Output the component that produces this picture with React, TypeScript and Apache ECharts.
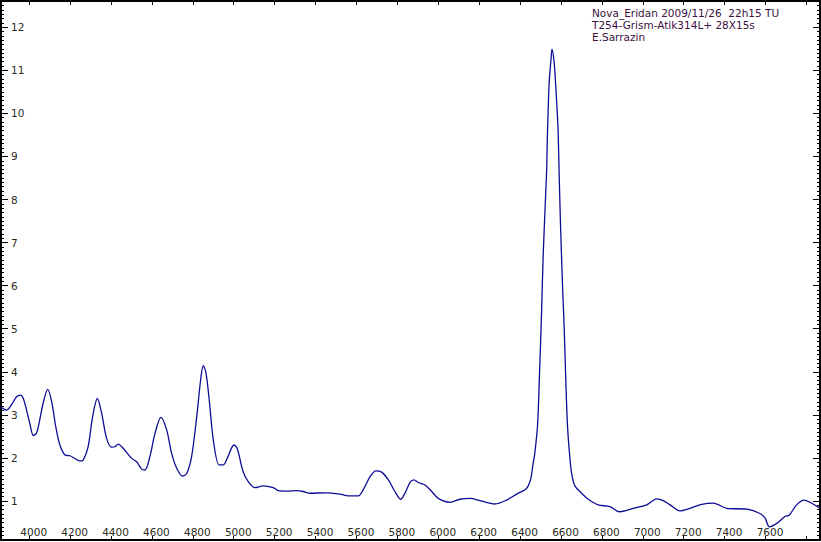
import React, { useEffect, useRef } from "react";
import * as echarts from "echarts";

// Spectrum: wavelength (Å) and relative flux
const wavelengths = [
  3862, 3889, 3915, 3938, 3958, 3971, 3987, 4003, 4020, 4036, 4050, 4068, 4090, 4110, 4130, 4150,
  4175, 4199, 4225, 4248, 4264, 4288, 4310, 4333, 4354, 4378, 4403, 4419, 4435, 4460, 4501, 4525,
  4550, 4566, 4590, 4615, 4644, 4672, 4696, 4721, 4750, 4770, 4794, 4819, 4840, 4851, 4864, 4880,
  4900, 4928, 4949, 4968, 5001, 5017, 5046, 5071, 5104, 5144, 5193, 5218, 5259, 5307, 5340, 5373,
  5454, 5519, 5560, 5609, 5633, 5666, 5695, 5723, 5756, 5788, 5816, 5837, 5862, 5881, 5902, 5935,
  5968, 6000, 6057, 6106, 6155, 6204, 6277, 6334, 6383, 6424, 6440, 6453, 6463, 6472, 6486, 6495,
  6503, 6513, 6525, 6530, 6533, 6538, 6543, 6551, 6556, 6567, 6575, 6581, 6586, 6591, 6598, 6608,
  6616, 6624, 6632, 6643, 6652, 6668, 6701, 6733, 6782, 6839, 6885, 6954, 7019, 7068, 7100, 7133,
  7182, 7231, 7288, 7345, 7410, 7508, 7573, 7598, 7619, 7655, 7695, 7716, 7752, 7788, 7817, 7866,
];
const flux = [
  3.18, 3.11, 3.25, 3.42, 3.46, 3.38, 3.11, 2.8, 2.52, 2.58, 2.85, 3.27, 3.59, 3.3, 2.72, 2.3,
  2.07, 2.05, 1.98, 1.93, 1.95, 2.26, 2.96, 3.38, 3.04, 2.46, 2.25, 2.26, 2.32, 2.22, 1.99, 1.91,
  1.74, 1.72, 2.03, 2.57, 2.94, 2.65, 2.11, 1.76, 1.58, 1.64, 2.03, 2.96, 3.89, 4.14, 3.98, 3.35,
  2.42, 1.84, 1.84, 1.99, 2.3, 2.22, 1.68, 1.45, 1.31, 1.35, 1.31, 1.24, 1.23, 1.24, 1.22, 1.18,
  1.19, 1.16, 1.12, 1.12, 1.26, 1.56, 1.7, 1.67, 1.49, 1.22, 1.04, 1.18, 1.43, 1.49, 1.43, 1.37,
  1.22, 1.06, 0.97, 1.04, 1.06, 1.01, 0.93, 1.02, 1.16, 1.26, 1.35, 1.53, 1.85, 2.11, 2.8, 3.97,
  5.05, 6.71, 8.11, 8.69, 9.38, 10.2, 10.78, 11.24, 11.49, 11.16, 10.58, 10.08, 9.6, 8.6, 7.37, 5.94,
  4.97, 3.73, 2.73, 2.03, 1.64, 1.35, 1.18, 1.04, 0.91, 0.87, 0.75, 0.83, 0.91, 1.05, 1.01, 0.91,
  0.77, 0.83, 0.92, 0.95, 0.83, 0.81, 0.71, 0.6, 0.4, 0.48, 0.64, 0.67, 0.91, 1.02, 0.97, 0.83,
];

const xLabelValues = [4000, 4200, 4400, 4600, 4800, 5000, 5200, 5400, 5600, 5800, 6000, 6200, 6400, 6600, 6800, 7000, 7200, 7400, 7600];
const xTickValues = [...xLabelValues, 7800];
const yLabelValues = [1, 2, 3, 4, 5, 6, 7, 8, 9, 10, 11, 12];

const titleLines = [
  "Nova_Eridan 2009/11/26  22h15 TU",
  "T254-Grism-Atik314L+ 28X15s",
  "E.Sarrazin",
];

const X_MIN = 3862;
const X_MAX = 7866.4;
const Y_MIN = 0.094;
const Y_MAX = 12.61;

const yMinorValues: number[] = [];
for (let i = 1; i <= 126; i++) {
  const v = i / 10;
  if (v > Y_MIN && v < Y_MAX && i % 10 !== 0) yMinorValues.push(v);
}

const FONT = "DejaVu Sans";

export default function App() {
  const ref = useRef<HTMLDivElement>(null);
  useEffect(() => {
    if (!ref.current) return;
    const chart = echarts.init(ref.current, null, { renderer: "svg" });
    const frame = { show: true, onZero: false, lineStyle: { color: "#000", width: 2 } };
    const tick = (values: number[], length: number) => ({
      show: true,
      inside: true,
      length,
      customValues: values,
      lineStyle: { color: "#000", width: 1 },
    });
    const option: any = {
      animation: false,
      grid: { left: 1, right: 1, top: 1, bottom: 2 },
      xAxis: [
        {
          type: "value",
          position: "bottom",
          min: X_MIN,
          max: X_MAX,
          axisLine: frame,
          axisTick: tick(xTickValues, 4),
          axisLabel: {
            show: true,
            inside: true,
            margin: 3,
            customValues: xLabelValues,
            formatter: (v: number) => String(v),
            color: "#2a2a20",
            fontFamily: FONT,
            fontSize: 10.5,
            padding: [0, 0, 0, 9],
          },
          splitLine: { show: false },
        },
        {
          type: "value",
          position: "top",
          min: X_MIN,
          max: X_MAX,
          axisLine: frame,
          axisTick: tick(xTickValues, 4),
          axisLabel: { show: false },
          splitLine: { show: false },
        },
      ],
      yAxis: [
        {
          type: "value",
          position: "left",
          min: Y_MIN,
          max: Y_MAX,
          axisLine: frame,
          axisTick: tick(yLabelValues, 7),
          axisLabel: {
            show: true,
            inside: true,
            margin: 10,
            customValues: yLabelValues,
            formatter: (v: number) => String(v),
            color: "#2a2a20",
            fontFamily: FONT,
            fontSize: 10.5,
          },
          splitLine: { show: false },
        },
        {
          type: "value",
          position: "right",
          min: Y_MIN,
          max: Y_MAX,
          axisLine: frame,
          axisTick: tick(yLabelValues, 7),
          axisLabel: { show: false },
          splitLine: { show: false },
        },
        {
          type: "value",
          position: "left",
          min: Y_MIN,
          max: Y_MAX,
          axisLine: { show: false },
          axisTick: tick(yMinorValues, 3),
          axisLabel: { show: false },
          splitLine: { show: false },
        },
        {
          type: "value",
          position: "right",
          min: Y_MIN,
          max: Y_MAX,
          axisLine: { show: false },
          axisTick: tick(yMinorValues, 3),
          axisLabel: { show: false },
          splitLine: { show: false },
        },
      ],
      graphic: titleLines.map((t, i) => ({
        type: "text",
        x: 592,
        y: 13.2 + i * 12.1,
        silent: true,
        style: {
          text: t,
          fill: "#3a1040",
          font: `10.5px "${FONT}"`,
          textVerticalAlign: "middle",
        },
      })),
      series: [
        {
          type: "line",
          xAxisIndex: 0,
          yAxisIndex: 0,
          data: wavelengths.map((w, i) => [w, flux[i]]),
          showSymbol: false,
          smooth: 0.3,
          lineStyle: { color: "#0c0c96", width: 1.3 },
        },
      ],
    };
    chart.setOption(option);
    return () => chart.dispose();
  }, []);
  return (
    <div
      ref={ref}
      style={{ position: "fixed", left: 0, top: 0, width: 821, height: 542, background: "#fff" }}
    />
  );
}
